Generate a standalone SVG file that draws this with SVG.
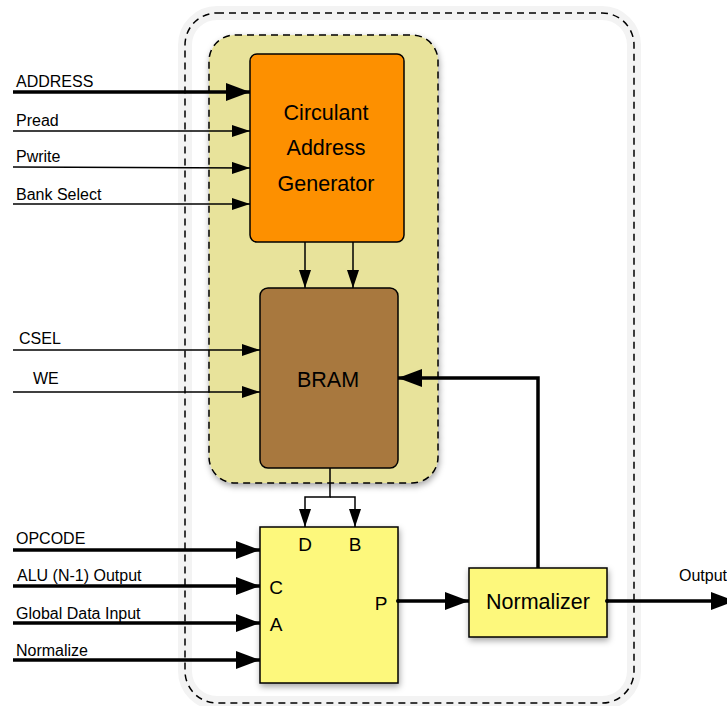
<svg xmlns="http://www.w3.org/2000/svg" width="727" height="706" viewBox="0 0 727 706">
<defs>
<style>
text{font-family:"Liberation Sans",Arial,sans-serif;fill:#000}
.lbl{font-size:16px}
.big{font-size:21.5px;text-anchor:middle}
.port{font-size:19px;text-anchor:middle}
.thin{stroke:#000;stroke-width:1.5;fill:none}
.thick{stroke:#000;stroke-width:3.5;fill:none}
.box{stroke:#000;stroke-width:1.5}
</style>
<marker id="ah" viewBox="0 0 18 12" refX="18" refY="6" markerWidth="18" markerHeight="12" markerUnits="userSpaceOnUse" orient="auto"><path d="M0,0L18,6L0,12z" fill="#000"/></marker>
<marker id="ahB" viewBox="0 0 24 18" refX="24" refY="9" markerWidth="24" markerHeight="18" markerUnits="userSpaceOnUse" orient="auto"><path d="M0,0L24,9L0,18z" fill="#000"/></marker>
<filter id="sh" x="-20%" y="-20%" width="140%" height="140%"><feDropShadow dx="1" dy="3" stdDeviation="3" flood-color="#000" flood-opacity="0.35"/></filter>
</defs>
<g id="outer">
<rect x="185" y="13" width="449" height="690" rx="32" fill="#fff" stroke="#f3f3f3" stroke-width="14"/>
<rect x="185" y="13" width="449" height="690" rx="32" fill="none" stroke="#000" stroke-width="1.5" stroke-dasharray="7,5"/>
</g>
<g id="memory-block">
<rect x="209" y="35" width="229" height="448" rx="26" fill="#e8e39b" stroke="#000" stroke-width="1.5" stroke-dasharray="7,5" filter="url(#sh)"/>
</g>
<g id="cag">
<rect class="box" x="250" y="54" width="154" height="188" rx="7" fill="#fd9000"/>
<text class="big" x="326" y="120">Circulant</text>
<text class="big" x="326" y="155">Address</text>
<text class="big" x="326" y="191">Generator</text>
</g>
<g id="bram">
<rect class="box" x="260" y="288" width="138" height="180" rx="8" fill="#a8783e"/>
<text class="big" x="328" y="387">BRAM</text>
</g>
<g id="alu">
<rect class="box" x="260" y="527" width="138" height="156" fill="#fdf87b" filter="url(#sh)"/>
<text class="port" x="305" y="551">D</text>
<text class="port" x="355" y="551">B</text>
<text class="port" x="276" y="594">C</text>
<text class="port" x="276" y="631">A</text>
<text class="port" x="381" y="610">P</text>
</g>
<g id="normalizer">
<rect class="box" x="469" y="568" width="138" height="69" fill="#fdf87b" filter="url(#sh)"/>
<text class="big" x="538" y="609">Normalizer</text>
</g>
<g id="connectors">
<line class="thick" x1="13" y1="92" x2="250" y2="92" marker-end="url(#ahB)"/>
<line class="thin" x1="13" y1="131" x2="250" y2="131" marker-end="url(#ah)"/>
<line class="thin" x1="13" y1="167" x2="250" y2="168" marker-end="url(#ah)"/>
<line class="thin" x1="13" y1="204" x2="250" y2="204" marker-end="url(#ah)"/>
<line class="thin" x1="13" y1="350" x2="260" y2="350" marker-end="url(#ah)"/>
<line class="thin" x1="13" y1="392" x2="260" y2="392" marker-end="url(#ah)"/>
<line class="thin" x1="305" y1="242" x2="305" y2="288" marker-end="url(#ah)"/>
<line class="thin" x1="353" y1="242" x2="353" y2="288" marker-end="url(#ah)"/>
<path class="thick" d="M538,568V378H398" marker-end="url(#ahB)"/>
<path class="thin" d="M330,468V497H305V527" marker-end="url(#ah)"/>
<path class="thin" d="M330,497H355V527" marker-end="url(#ah)"/>
<line class="thick" x1="13" y1="550" x2="260" y2="550" marker-end="url(#ahB)"/>
<line class="thick" x1="13" y1="586" x2="260" y2="586" marker-end="url(#ahB)"/>
<line class="thick" x1="13" y1="623" x2="260" y2="623" marker-end="url(#ahB)"/>
<line class="thick" x1="13" y1="660" x2="260" y2="660" marker-end="url(#ahB)"/>
<circle cx="398" cy="601" r="2" fill="#000"/>
<line class="thick" x1="398" y1="601" x2="469" y2="601" marker-end="url(#ahB)"/>
<circle cx="607" cy="601" r="2" fill="#000"/>
<line class="thick" x1="607" y1="601" x2="735" y2="601" marker-end="url(#ahB)"/>
</g>
<g id="labels">
<text class="lbl" x="16" y="87">ADDRESS</text>
<text class="lbl" x="16" y="126">Pread</text>
<text class="lbl" x="16" y="162">Pwrite</text>
<text class="lbl" x="16" y="200">Bank Select</text>
<text class="lbl" x="19" y="344">CSEL</text>
<text class="lbl" x="33" y="384">WE</text>
<text class="lbl" x="16" y="544">OPCODE</text>
<text class="lbl" x="17" y="581">ALU (N-1) Output</text>
<text class="lbl" x="16" y="619">Global Data Input</text>
<text class="lbl" x="16" y="656">Normalize</text>
<text class="lbl" x="679" y="581">Output</text>
</g>
</svg>
